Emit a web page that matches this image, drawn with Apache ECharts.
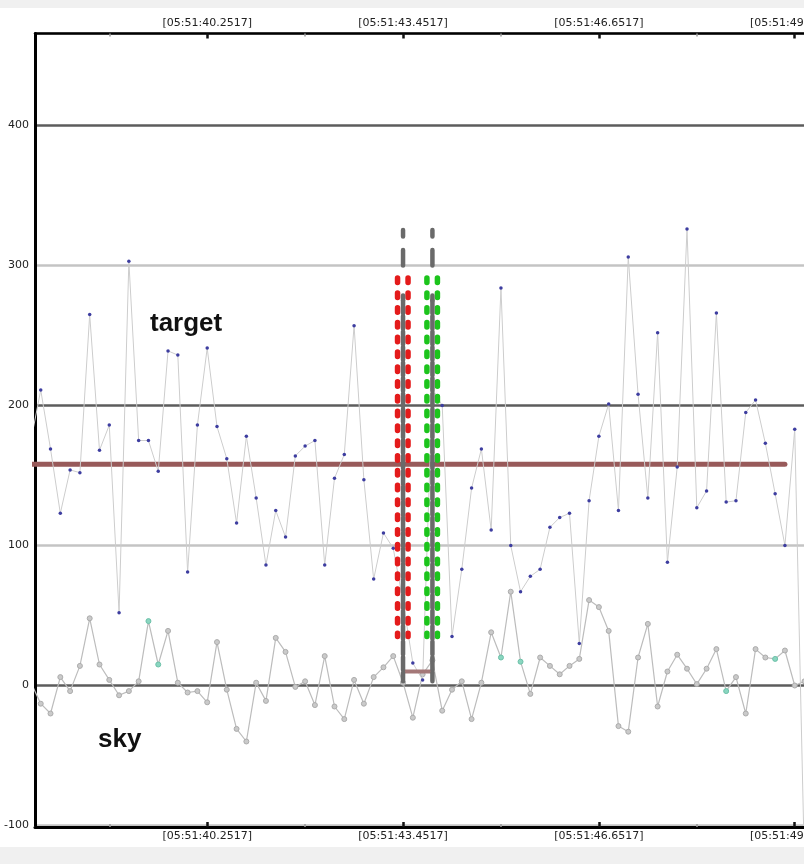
<!DOCTYPE html>
<html><head><meta charset="utf-8">
<script src="https://cdn.jsdelivr.net/npm/echarts@6/dist/echarts.min.js"></script>
<style>
html,body{margin:0;padding:0;background:#f0f0f0;overflow:hidden;width:804px;height:864px;}
#panel{position:absolute;left:0;top:8px;width:804px;height:839px;background:#fff;}
#chart{position:absolute;left:0;top:0;width:1000px;height:864px;}
</style></head><body>
<div id="panel"></div><div id="chart"></div>
<script>
// ---- data ----
const baseSecond = 40.2517;          // 05:51:40.2517 = time 0
const sampleStep = 0.16;             // seconds between samples
const firstSample = -18;             // index of first sample
const targetValues = [175,211,169,123,154,152,265,168,186,52,303,175,175,153,239,236,81,186,
  241,185,162,116,178,134,86,125,106,164,171,175,86,148,165,257,147,76,109,98,
  60,16,4,212,200,35,83,141,169,111,284,100,67,78,83,113,120,123,30,132,178,201,
  125,306,208,134,252,88,156,326,127,139,266,131,132,195,204,173,137,100,183,-130];
const skyValues = [2,-13,-20,6,-4,14,48,15,4,-7,-4,3,46,15,39,2,-5,-4,
  -12,31,-3,-31,-40,2,-11,34,24,-1,3,-14,21,-15,-24,4,-13,6,13,21,
  2,-23,8,18,-18,-3,3,-24,2,38,20,67,17,-6,20,14,8,14,19,61,56,39,
  -29,-33,20,44,-15,10,22,12,1,12,26,-4,6,-20,26,20,19,25,0,3];
const skyFlagged = [-6,-5,30,32,53,58];
const levelValue = 158;
const levelEndSample = 59;
const gateSamples = [20, 23];
const gateTop = 325.3, gateDashEnd = 275, gateBottom = 3;
const dotTop = 291, dotBottom = 35;
const connectorValue = 10;
const xLabelValues = [0, 3.2, 6.4, 9.6];
const xMinorValues = [-1.6, 1.6, 4.8, 8.0, 11.2];
const yMin = -100, yInterval = 100;

// ---- layout / style ----
const gridLeft = 35, gridTop = 33.5, gridW = 900, gridH = 792;
const pxPerSec = 61.2, pxPerUnit = 1.4;
const xMin = (gridLeft - 207.2) / pxPerSec;
const xMax = xMin + gridW / pxPerSec;
const yMax = yMin + gridH / pxPerUnit;
const gateColors = ['#e41b1b', '#1cc41c'];
const labelFont = {color:'#222', fontFamily:'DejaVu Sans', fontSize:11};

function fmtTime(v){
  const s = baseSecond + v;
  return '[05:51:' + (s < 10 ? '0' : '') + s.toFixed(4) + ']';
}
const t = k => k * sampleStep;

const targetData = targetValues.map((v,i)=>[t(firstSample+i), v]);
const skyData = skyValues.map((v,i)=>{
  const k = firstSample + i;
  const item = {value:[t(k), v]};
  if (skyFlagged.includes(k)) item.itemStyle = {color:'#8ad6c0', borderColor:'#6cc0a8'};
  return item;
});
const gateData = gateSamples.map((k,i)=>[t(k), gateTop, gateDashEnd, gateBottom, dotTop, dotBottom, i]);

function renderGate(params, api){
  const tt = api.value(0);
  const c = v => api.coord([tt, v]);
  const x = c(0)[0];
  const yTop = c(api.value(1))[1], yDash = c(api.value(2))[1], yBot = c(api.value(3))[1];
  const yDT = c(api.value(4))[1], yDB = c(api.value(5))[1];
  const col = gateColors[api.value(6)];
  const dot = {stroke:col, lineWidth:5.5, lineDash:[4.5,10.3], lineCap:'round', fill:null};
  const gray = '#6a6a6a';
  return {type:'group', children:[
    {type:'line', shape:{x1:x-5.5,y1:yDT,x2:x-5.5,y2:yDB}, style:dot},
    {type:'line', shape:{x1:x+5,y1:yDT,x2:x+5,y2:yDB}, style:dot},
    {type:'line', shape:{x1:x,y1:yTop,x2:x,y2:yDash}, style:{stroke:gray, lineWidth:4.5, lineDash:[6.5,13.5,15.5,30], lineCap:'round'}},
    {type:'line', shape:{x1:x,y1:yDash,x2:x,y2:yBot}, style:{stroke:gray, lineWidth:4.5, lineDash:[13,2.5], lineCap:'round'}}
  ]};
}

function xAxisBase(pos, major){
  return {
    type:'value', position:pos, min:xMin, max:xMax, gridIndex:0,
    offset: pos === 'bottom' ? 1.5 : 0,
    axisLine:{show:major, onZero:false, lineStyle:{color:'#000', width: pos==='bottom'?3:2.5}},
    axisTick: major
      ? {show:true, inside:true, customValues:xLabelValues, length:5, lineStyle:{color:'#111', width:2.5}}
      : {show:true, inside:true, customValues:xMinorValues, length:3, lineStyle:{color:'#999', width:1.5}},
    axisLabel: major
      ? Object.assign({show:true, customValues:xLabelValues, formatter:fmtTime, margin: pos==='bottom'?4:5}, labelFont)
      : {show:false},
    splitLine:{show:false}
  };
}

const chart = echarts.init(document.getElementById('chart'), null, {renderer:'canvas'});
chart.setOption({
  animation:false,
  backgroundColor:'transparent',
  grid:{left:gridLeft, top:gridTop, width:gridW, height:gridH, containLabel:false},
  xAxis:[xAxisBase('bottom', true), xAxisBase('top', true), xAxisBase('bottom', false), xAxisBase('top', false)],
  yAxis:{
    type:'value', min:yMin, max:yMax, interval:yInterval,
    axisLine:{show:true, onZero:false, lineStyle:{color:'#000', width:3}},
    axisTick:{show:false},
    axisLabel:Object.assign({margin:6, showMaxLabel:false}, labelFont),
    splitLine:{show:true, lineStyle:{color:['#c4c4c4','#5c5c5c'], width:2.5}}
  },
  graphic:[
    {type:'text', left:150, top:311, z:100, style:{text:'target', font:'bold 26px "Liberation Sans", Arial, sans-serif', fill:'#111'}},
    {type:'text', left:98, top:727, z:100, style:{text:'sky', font:'bold 26px "Liberation Sans", Arial, sans-serif', fill:'#111'}}
  ],
  series:[
    {type:'line', name:'level', data:[[t(firstSample), levelValue],[t(levelEndSample), levelValue]],
     symbol:'none', lineStyle:{color:'#985a5a', width:5, cap:'round'}, z:2, silent:true},
    {type:'line', name:'sky', data:skyData, symbol:'circle', symbolSize:5, showAllSymbol:true,
     lineStyle:{color:'#bcbcbc', width:1.2}, itemStyle:{color:'#cacaca', borderColor:'#ababab', borderWidth:1}, z:3, silent:true},
    {type:'line', name:'target', data:targetData, symbol:'circle', symbolSize:3.5, showAllSymbol:true,
     lineStyle:{color:'#cdcdcd', width:1}, itemStyle:{color:'#3d3da0'}, z:4, silent:true},
    {type:'line', name:'connector', data:[[t(gateSamples[0]), connectorValue],[t(gateSamples[1]), connectorValue]],
     symbol:'none', lineStyle:{color:'#a47878', width:4}, z:5, silent:true},
    {type:'custom', name:'gate', data:gateData, renderItem:renderGate, encode:{x:0, y:[1,2,3,4,5]}, clip:false, z:6, silent:true}
  ]
});
</script></body></html>
